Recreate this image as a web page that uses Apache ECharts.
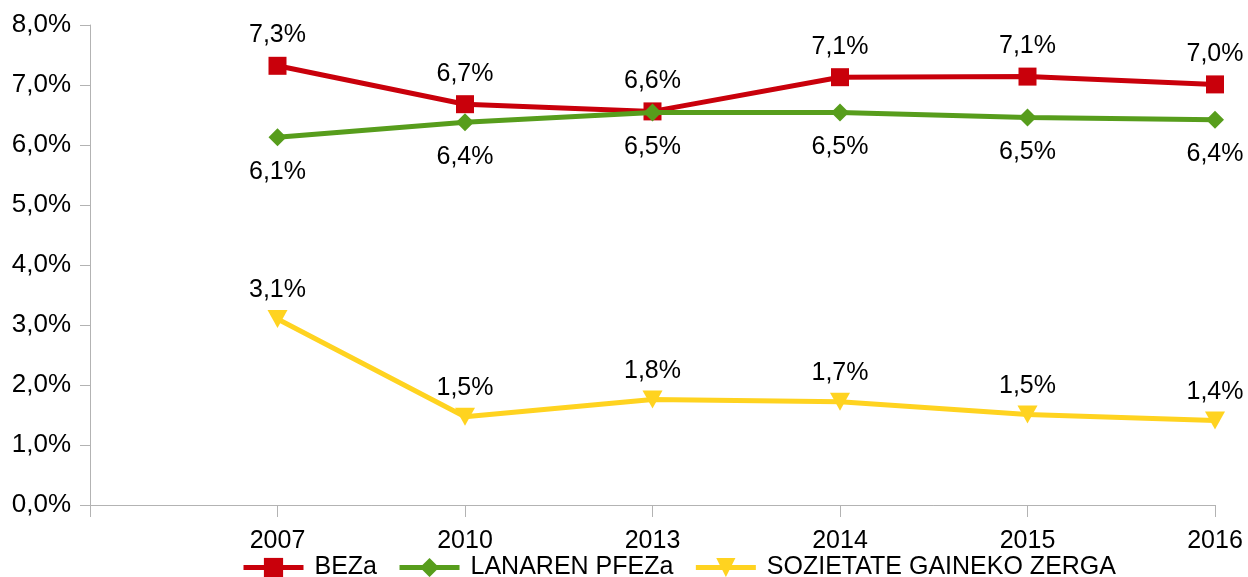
<!DOCTYPE html>
<html>
<head>
<meta charset="utf-8">
<script src="https://cdn.jsdelivr.net/npm/echarts@6/dist/echarts.min.js"></script>
<style>html,body{margin:0;padding:0;background:#fff}#c{width:1248px;height:577px}</style>
</head>
<body>
<div id="c"></div>
<script>
const categories = ['', '2007', '2010', '2013', '2014', '2015', '2016'];
const bezaValues = [null, 7.32, 6.68, 6.56, 7.13, 7.14, 7.01];
const pfezaValues = [null, 6.13, 6.38, 6.54, 6.54, 6.46, 6.42];
const sozValues = [null, 3.10, 1.47, 1.76, 1.72, 1.51, 1.41];
const yTicks = { min: 0, max: 8, interval: 1 };

const FONT = 'Liberation Sans';
const fmt = v => v.toFixed(1).replace('.', ',') + '%';

const chart = echarts.init(document.getElementById('c'), null, { renderer: 'canvas' });
function labelCfg(pos, dist) {
  return {
    show: true, position: pos, distance: dist,
    color: '#000', fontFamily: FONT, fontSize: 25,
    formatter: p => fmt(p.value)
  };
}
chart.setOption({
  animation: false,
  grid: { left: 90, right: 33, top: 25, bottom: 72, containLabel: false },
  legend: {
    left: 236, top: 550,
    itemWidth: 60, itemHeight: 24, itemGap: 20,
    lineStyle: { width: 5 },
    textStyle: { fontFamily: FONT, fontSize: 25, color: '#000', padding: [0, 0, 0, 6] },
    data: ['BEZa', 'LANAREN PFEZa', 'SOZIETATE GAINEKO ZERGA']
  },
  xAxis: {
    type: 'category', data: categories, boundaryGap: false,
    axisLine: { lineStyle: { color: '#b3b3b3', width: 1 } },
    axisTick: { show: true, length: 12, alignWithLabel: true, lineStyle: { color: '#b3b3b3' } },
    axisLabel: { color: '#000', fontFamily: FONT, fontSize: 25, margin: 24, interval: 0 },
    splitLine: { show: false }
  },
  yAxis: {
    type: 'value', min: yTicks.min, max: yTicks.max, interval: yTicks.interval,
    axisLine: { show: true, lineStyle: { color: '#b3b3b3', width: 1 } },
    axisTick: { show: true, length: 10, lineStyle: { color: '#b3b3b3' } },
    axisLabel: { color: '#000', fontFamily: FONT, fontSize: 26, margin: 19, formatter: v => fmt(v) },
    splitLine: { show: false }
  },
  series: [
    {
      name: 'BEZa', type: 'line', data: bezaValues,
      symbol: 'rect', symbolSize: 18,
      lineStyle: { color: '#C9000B', width: 5 },
      itemStyle: { color: '#C9000B' },
      label: labelCfg('top', 9), z: 3
    },
    {
      name: 'LANAREN PFEZa', type: 'line', data: pfezaValues,
      symbol: 'diamond', symbolSize: 18,
      lineStyle: { color: '#579D1C', width: 5 },
      itemStyle: { color: '#579D1C' },
      label: labelCfg('bottom', 13), z: 4
    },
    {
      name: 'SOZIETATE GAINEKO ZERGA', type: 'line', data: sozValues,
      symbol: 'triangle', symbolSize: [20, 18], symbolRotate: 180,
      lineStyle: { color: '#FFD320', width: 5 },
      itemStyle: { color: '#FFD320' },
      label: labelCfg('top', 7), z: 2
    }
  ]
});
</script>
</body>
</html>
